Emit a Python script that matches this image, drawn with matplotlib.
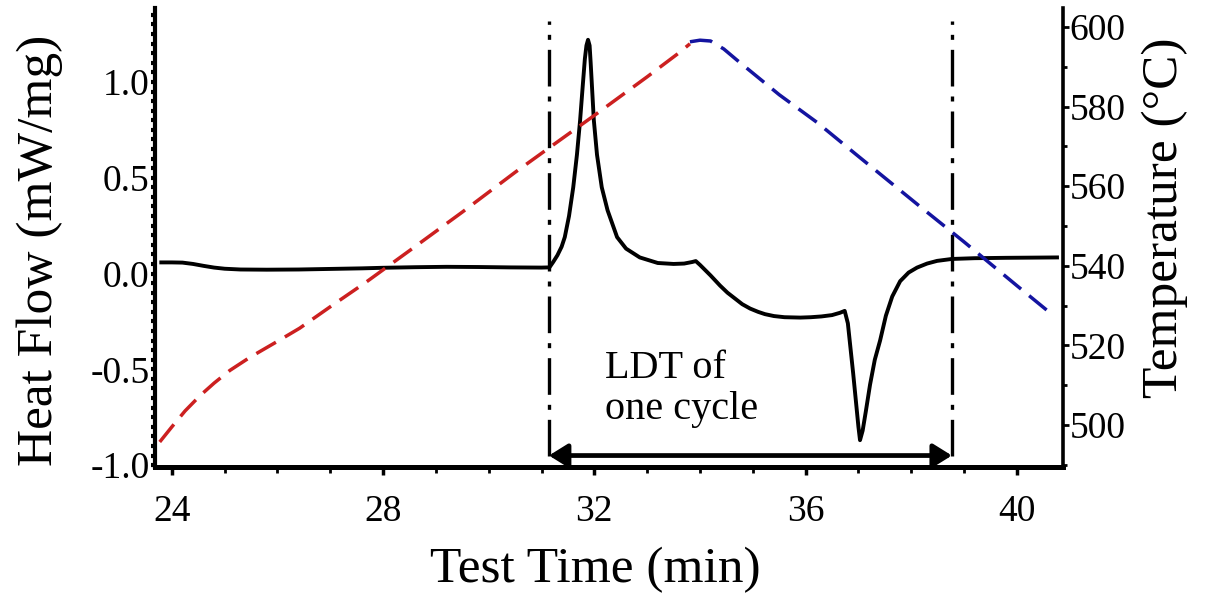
import matplotlib
matplotlib.use("Agg")
import matplotlib.pyplot as plt
from matplotlib.ticker import MultipleLocator, FixedLocator

plt.rcParams['font.family'] = ['Liberation Serif', 'DejaVu Serif']
plt.rcParams['axes.unicode_minus'] = False

# ---- data ----
hf_time = [23.80, 24.00, 24.20, 24.40, 24.60, 24.80, 25.00, 25.30, 25.80, 26.40, 27.00,
           27.60, 28.00, 28.60, 29.20, 29.80, 30.40, 31.00, 31.15, 31.22, 31.30, 31.38,
           31.44, 31.52, 31.60, 31.67, 31.73, 31.78, 31.82, 31.85, 31.88, 31.91, 31.93,
           31.96, 31.99, 32.05, 32.14, 32.25, 32.43, 32.60, 32.86, 33.20, 33.50, 33.70, 33.85,
           33.92, 34.00, 34.20, 34.38, 34.52, 34.66, 34.80, 34.95, 35.10, 35.23, 35.40,
           35.60, 35.90, 36.10, 36.30, 36.50, 36.65, 36.74, 36.80, 36.90, 37.00, 37.03,
           37.08, 37.14, 37.22, 37.31, 37.41, 37.52, 37.64, 37.79, 37.95, 38.11, 38.30,
           38.49, 38.77, 39.20, 39.80, 40.30, 40.76]
hf_value = [0.058, 0.058, 0.057, 0.050, 0.040, 0.031, 0.025, 0.021, 0.020, 0.021, 0.024,
            0.027, 0.030, 0.033, 0.035, 0.034, 0.032, 0.031, 0.032, 0.060, 0.095, 0.140,
            0.190, 0.300, 0.450, 0.620, 0.800, 0.980, 1.120, 1.190, 1.220, 1.190, 1.100,
            0.950, 0.800, 0.620, 0.450, 0.330, 0.190, 0.130, 0.084, 0.055, 0.050, 0.052, 0.060,
            0.065, 0.045, -0.010, -0.063, -0.100, -0.130, -0.160, -0.183, -0.200, -0.212, -0.222,
            -0.228, -0.230, -0.228, -0.224, -0.217, -0.205, -0.195, -0.260, -0.520, -0.800, -0.870,
            -0.820, -0.720, -0.580, -0.450, -0.350, -0.220, -0.120, -0.040, 0.005, 0.031, 0.052,
            0.066, 0.076, 0.080, 0.082, 0.083, 0.084]

heat_time = [23.77, 24.00, 24.25, 24.53, 24.80, 25.10, 25.48, 26.00, 26.42, 27.00, 27.69, 28.50,
             29.50, 30.50, 31.16, 32.00, 33.00, 33.60, 33.81]
heat_temp = [495.7, 499.5, 503.5, 507.3, 510.5, 513.7, 517.0, 521.0, 524.3, 529.7, 536.0, 543.8,
             553.5, 563.5, 569.8, 577.8, 587.5, 593.5, 595.8]

cool_time = [33.81, 34.00, 34.20, 34.45, 34.70, 35.50, 36.22, 37.00, 38.11, 39.00, 40.00, 40.69]
cool_temp = [596.3, 596.7, 596.5, 594.5, 591.7, 583.0, 576.0, 567.5, 555.5, 546.0, 535.0, 527.5]

ldt_start, ldt_end = 31.14, 38.77
xticks = [24, 28, 32, 36, 40]
yticks_left = [-1.0, -0.5, 0.0, 0.5, 1.0]
yticks_right = [500, 520, 540, 560, 580, 600]

# ---- figure ----
fig = plt.figure(figsize=(12.05, 5.96), dpi=100)
ax = fig.add_axes([0.1286, 0.2164, 0.7534, 0.7702])
ax2 = ax.twinx()

ax.set_xlim(23.68, 40.87)
ax.set_ylim(-1.01, 1.386)
ax2.set_ylim(489.4, 604.8)

# vertical dash-dot lines
for xv in (ldt_start, ldt_end):
    ax.plot([xv, xv], [-0.95, 1.32], color='black', lw=2.4,
            dashes=(11, 3, 1.5, 3), zorder=2)

ax.plot(hf_time, hf_value, color='black', lw=2.8, zorder=3,
        solid_joinstyle='round')

ax2.plot(heat_time, heat_temp, color='#cc2020', lw=2.5, dashes=(6.5, 3))
ax2.plot(cool_time, cool_temp, color='#1414a0', lw=2.5, dashes=(6.5, 3))

# arrow
ax.annotate('', xy=(ldt_start, -0.95), xytext=(ldt_end, -0.95),
            arrowprops=dict(arrowstyle='<|-|>,head_length=0.45,head_width=0.28',
                            lw=3.4, color='black', mutation_scale=25,
                            shrinkA=0, shrinkB=0))
ax.text(32.2, -0.40, 'LDT of\none cycle', fontsize=29, ha='left', va='top',
        linespacing=1.15)

# spines
for a in (ax, ax2):
    a.spines['top'].set_visible(False)
ax.spines['left'].set_linewidth(3.0)
ax.spines['bottom'].set_linewidth(3.6)
ax.spines['right'].set_visible(False)
ax2.spines['left'].set_visible(False)
ax2.spines['bottom'].set_visible(False)
ax2.spines['right'].set_linewidth(2.6)

# ticks
ax.xaxis.set_major_locator(FixedLocator(xticks))
ax.xaxis.set_minor_locator(MultipleLocator(1))
ax.yaxis.set_major_locator(FixedLocator(yticks_left))
ax.yaxis.set_minor_locator(MultipleLocator(0.05))
ax2.yaxis.set_major_locator(FixedLocator(yticks_right))
ax2.yaxis.set_minor_locator(MultipleLocator(10))
ax.set_xticklabels([str(v) for v in xticks])
ax.set_yticklabels(['%.1f' % v for v in yticks_left])
ax2.set_yticklabels([str(v) for v in yticks_right])

ax.tick_params(axis='x', which='major', direction='out', length=6, width=2.5,
               labelsize=27, pad=14)
ax.tick_params(axis='x', which='minor', direction='out', length=4, width=2.0)
ax.tick_params(axis='y', which='both', direction='out', length=3, width=3.0,
               labelsize=27, pad=1)
ax2.tick_params(axis='y', which='major', direction='out', length=4, width=2.0,
                labelsize=27, pad=1)
ax2.tick_params(axis='y', which='minor', direction='out', length=3, width=2.0)

ax.set_xlabel('Test Time (min)', fontsize=37)
ax.xaxis.set_label_coords(0.4846, -0.225)
ax.xaxis.label.set_va('center')
ax.set_ylabel('Heat Flow (mW/mg)', fontsize=37)
ax.yaxis.set_label_coords(-0.127, 0.473)
ax.yaxis.label.set_va('center')
ax2.set_ylabel('Temperature (°C)', fontsize=37)
ax2.yaxis.set_label_coords(1.112, 0.542)
ax2.yaxis.label.set_va('center')

fig.savefig('out.png', dpi=100)
